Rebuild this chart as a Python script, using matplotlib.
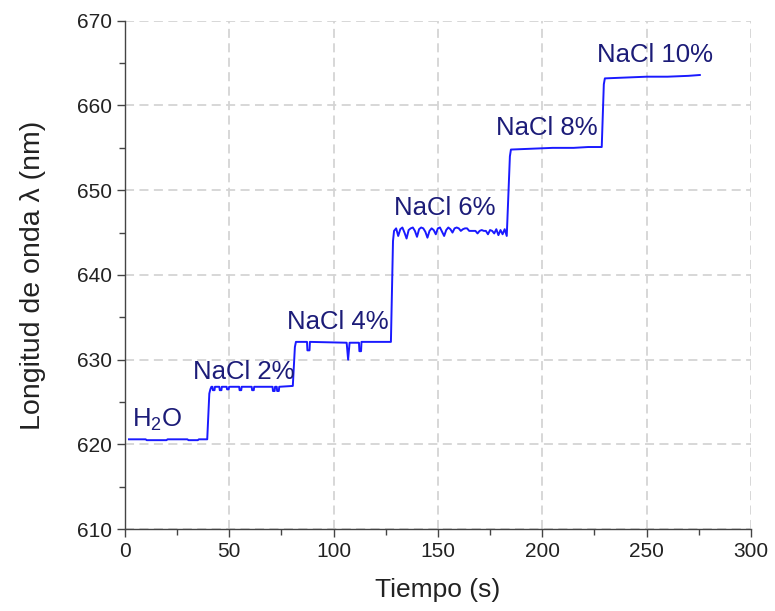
import numpy as np
import matplotlib.pyplot as plt
from matplotlib.ticker import MultipleLocator

plt.rcParams['font.family'] = ['Liberation Sans', 'DejaVu Sans']
plt.rcParams['mathtext.fontset'] = 'custom'
plt.rcParams['mathtext.rm'] = 'Liberation Sans'

# Trace breakpoints (time in s, wavelength in nm), one pair of lists per plateau
t_h2o = [2, 10, 10.5, 20, 20.5, 30, 30.5, 35, 35.5, 39.5]
w_h2o = [620.6, 620.6, 620.5, 620.5, 620.6, 620.6, 620.5, 620.5, 620.6, 620.6]

t_2 = [40.5, 41, 41.5, 42, 42.2, 43, 43.2, 45.3, 45.5, 46.3, 46.5, 48.8, 49, 49.8, 50,
       54.8, 55, 55.8, 56, 60.8, 61, 61.8, 62, 70.8, 71, 71.8, 72, 72.8, 73, 73.8, 74, 80.5]
w_2 = [626.0, 626.5, 626.8, 626.8, 626.4, 626.4, 626.8, 626.8, 626.4, 626.4, 626.8, 626.8, 626.5, 626.5, 626.8,
       626.8, 626.4, 626.4, 626.8, 626.8, 626.4, 626.4, 626.8, 626.8, 626.3, 626.3, 626.8, 626.8, 626.3, 626.3, 626.8, 626.9]

t_4 = [81.5, 82, 87.3, 87.5, 88.5, 88.7, 106.3, 107, 107.7, 112.2, 112.4, 113.2, 113.4, 127.5]
w_4 = [631.5, 632.1, 632.1, 631.1, 631.1, 632.1, 632.0, 630.0, 632.0, 632.0, 631.0, 631.0, 632.1, 632.1]

t_6 = [128.5] + list(range(129, 184))
w_6 = [644.0,
       645.2, 645.5, 644.6, 645.4, 645.6, 645.0, 644.3, 645.3, 645.5, 645.6,
       645.2, 644.5, 645.4, 645.6, 645.5, 645.1, 644.4, 645.2, 645.5, 645.3,
       644.8, 645.5, 645.6, 645.1, 644.6, 645.3, 645.6, 645.4, 645.0, 645.5,
       645.6, 645.5, 645.2, 645.4, 645.5, 645.5, 645.2, 645.2, 645.2, 645.2,
       644.9, 645.2, 645.3, 645.2, 645.2, 644.8, 645.3, 645.2, 644.9, 645.4,
       644.7, 645.3, 644.8, 645.4, 644.6]

t_8 = [184.5, 185, 195, 205, 215, 222, 228.5]
w_8 = [654.0, 654.8, 654.9, 655.0, 655.0, 655.1, 655.1]

t_10 = [229.5, 230, 240, 250, 260, 270, 275.5]
w_10 = [662.5, 663.2, 663.3, 663.4, 663.4, 663.5, 663.6]

labels = ['H$_2$O', 'NaCl 2%', 'NaCl 4%', 'NaCl 6%', 'NaCl 8%', 'NaCl 10%']
label_x = [15.5, 57, 102, 153.5, 202, 254]
label_y = [622.9, 628.5, 634.4, 647.9, 657.3, 666.0]

t = np.concatenate([t_h2o, t_2, t_4, t_6, t_8, t_10])
w = np.concatenate([w_h2o, w_2, w_4, w_6, w_8, w_10])

fig = plt.figure(figsize=(7.75, 6.11), dpi=100)
ax = fig.add_axes([0.161, 0.134, 0.808, 0.832])

ax.plot(t, w, color='#1a1aff', lw=1.4, zorder=3)

for s, x, y in zip(labels, label_x, label_y):
    ax.text(x, y, s, ha='center', va='center', fontsize=18.5, color='#1c1c78')

ax.set_xlim(0, 300)
ax.set_ylim(610, 670)
ax.xaxis.set_major_locator(MultipleLocator(50))
ax.xaxis.set_minor_locator(MultipleLocator(25))
ax.yaxis.set_major_locator(MultipleLocator(10))
ax.yaxis.set_minor_locator(MultipleLocator(5))

ax.grid(True, which='major', color='#d4d4d4', ls=(0, (5, 3)), lw=1.3, zorder=0)
for gl in [ax.xaxis.get_gridlines()[-1], ax.yaxis.get_gridlines()[-1]]:
    gl.set_visible(False)

for side in ['top', 'right']:
    ax.spines[side].set_visible(False)
for side in ['left', 'bottom']:
    ax.spines[side].set_color('#444444')
    ax.spines[side].set_linewidth(1.0)

ax.tick_params(which='major', direction='out', length=6, width=1, color='#444444',
               labelsize=15, labelcolor='#222222')
ax.tick_params(which='minor', direction='out', length=4, width=1, color='#444444')

ax.set_xlabel('Tiempo (s)', fontsize=19, color='#222222', labelpad=12)
ax.set_ylabel('Longitud de onda λ (nm)', fontsize=20.5, color='#222222', labelpad=22)

fig.savefig('out.png', dpi=100)
